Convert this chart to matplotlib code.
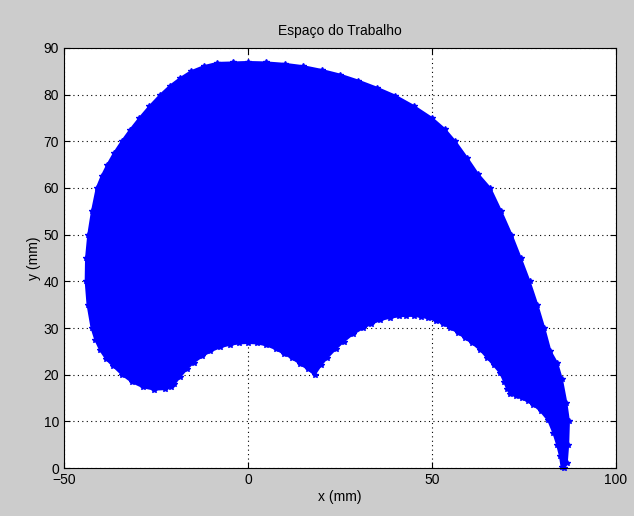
import numpy as np
import matplotlib.pyplot as plt

plt.rcParams['font.family'] = ['Liberation Sans', 'DejaVu Sans']

# Workspace boundary (mm)
# outer edge: from the right tip, up and over the top, down the left side
outer_x = [86.0, 86.6, 87.0, 87.2, 86.5, 85.3, 84.0, 82.2, 80.5, 78.6, 76.5,
           74.1, 71.6, 68.8, 65.8, 62.5, 59.5, 56.3, 53.5, 50.0, 45.0, 40.0, 35.0,
           30.0, 25.0, 20.0, 15.0, 10.0, 5.0, 0.0, -4.0, -8.4, -12.0, -15.5, -18.5,
           -21.2, -23.8, -26.8, -29.5, -32.0, -34.3, -36.4, -38.2, -39.8, -41.1,
           -42.4, -43.4, -44.0, -44.1, -43.6, -42.5, -41.5, -40.2, -38.5, -36.6,
           -34.2, -31.5, -28.5, -25.5, -22.5, -21.0]
outer_y = [0.0, 1.0, 5.0, 10.0, 14.0, 19.0, 22.5, 25.0, 30.0, 35.0, 40.0,
           45.0, 50.0, 55.0, 60.0, 63.0, 66.5, 70.0, 72.6, 75.0, 77.6, 79.8, 81.5,
           83.0, 84.3, 85.3, 86.1, 86.6, 86.9, 87.0, 86.9, 86.8, 86.1, 85.0, 83.5,
           81.9, 80.0, 77.5, 75.0, 72.5, 70.0, 67.5, 65.0, 62.5, 60.0,
           55.0, 50.0, 45.0, 40.0, 35.0, 30.0, 27.5, 25.3, 23.3, 21.8,
           20.0, 18.4, 17.3, 16.8, 16.9, 17.3]
# inner edge: from bottom left back to the tip
inner_x = [-20.0, -18.4, -16.5, -14.8, -12.5, -10.2, -7.5, -5.0, -2.5, 0.0, 2.5, 5.0,
           7.5, 9.7, 12.0, 14.2, 16.2, 18.1, 19.8, 21.5, 23.8, 26.0, 28.5, 31.3,
           33.5, 36.0, 38.5, 41.0, 43.0, 45.0, 47.0, 49.0, 51.0, 53.0, 55.0, 57.0,
           59.0, 61.0, 63.1, 65.0, 66.8, 68.6, 69.6, 70.4, 71.2, 72.8, 74.5, 76.0,
           77.5, 79.5, 81.6, 83.0, 84.0, 84.8, 85.2]
inner_y = [18.0, 19.6, 21.3, 22.6, 23.9, 25.0, 25.9, 26.4, 26.7, 26.8, 26.7, 26.3,
           25.5, 24.5, 23.5, 22.3, 21.2, 20.0, 22.0, 23.6, 25.5, 27.1, 28.7, 30.0,
           30.9, 31.7, 32.2, 32.5, 32.6, 32.6, 32.4, 32.1, 31.6, 30.9, 30.0, 29.0,
           27.8, 26.7, 25.3, 23.6, 22.0, 20.3, 18.5, 17.0, 15.9, 15.4, 14.9, 14.3,
           13.6, 12.2, 10.2, 7.5, 5.0, 2.5, 0.3]

xticks = [-50, 0, 50, 100]
yticks = list(range(0, 91, 10))

bx = outer_x + inner_x
by = outer_y + inner_y

fig = plt.figure(figsize=(6.34, 5.16), dpi=100, facecolor='#cccccc')
ax = fig.add_axes([64/634, 48/516, 552/634, 420/516])
ax.set_facecolor('white')

ax.fill(bx, by, color='#0000ff', edgecolor='#0000ff', linewidth=1.5, zorder=2)
# star markers along the edge, like the plotted points in the original
ax.plot(bx, by, linestyle='none', marker='*', markersize=4, color='#0000ff',
        zorder=3, clip_on=False)

ax.set_xlim(-50, 100)
ax.set_ylim(0, 90)
ax.set_xticks(xticks)
ax.set_yticks(yticks)
ax.grid(True, linestyle=(0, (1, 3)), color='black', linewidth=0.8, zorder=1)
ax.set_axisbelow(True)
ax.tick_params(direction='in', length=4, top=True, right=True, labelsize=10,
               colors='black', width=0.8)
for s in ax.spines.values():
    s.set_linewidth(0.8)
    s.set_zorder(4)

ax.set_title('Espaço do Trabalho', fontsize=10, pad=9)
ax.set_xlabel('x (mm)', fontsize=10, labelpad=2)
ax.set_ylabel('y (mm)', fontsize=10, labelpad=2)

fig.savefig('out.png', dpi=100, facecolor=fig.get_facecolor())
